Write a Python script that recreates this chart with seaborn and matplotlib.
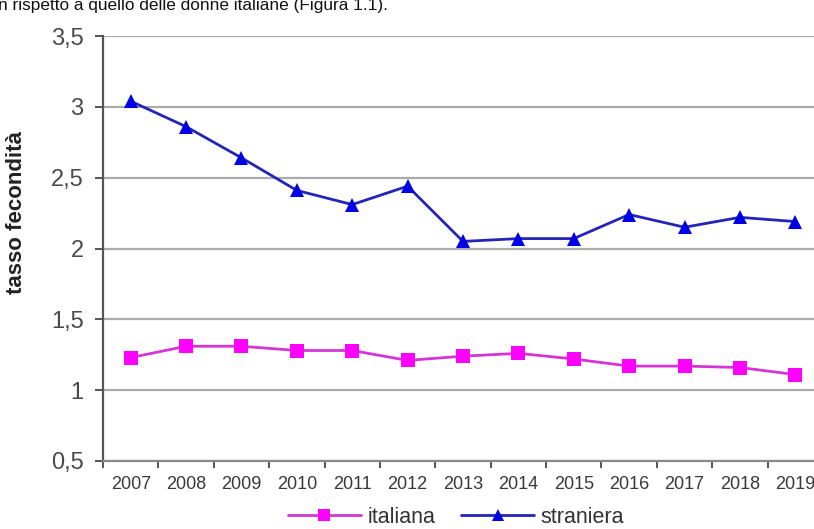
import matplotlib
matplotlib.use("Agg")
import matplotlib.pyplot as plt
from matplotlib.ticker import MultipleLocator, FuncFormatter
import seaborn as sns
import pandas as pd

anni = ["2007", "2008", "2009", "2010", "2011", "2012", "2013",
        "2014", "2015", "2016", "2017", "2018", "2019"]
italiana = [1.23, 1.31, 1.31, 1.28, 1.28, 1.21, 1.24, 1.26, 1.22, 1.17, 1.17, 1.16, 1.11]
straniera = [3.04, 2.86, 2.64, 2.41, 2.31, 2.44, 2.05, 2.07, 2.07, 2.24, 2.15, 2.22, 2.19]
y_ticks = [0.5, 1, 1.5, 2, 2.5, 3, 3.5]

df = pd.concat([
    pd.DataFrame({"anno": anni, "tasso": italiana, "gruppo": "italiana"}),
    pd.DataFrame({"anno": anni, "tasso": straniera, "gruppo": "straniera"}),
])

sns.set_style("white")
plt.rcParams["font.family"] = ["Liberation Sans", "DejaVu Sans"]

fig = plt.figure(figsize=(8.14, 5.29), dpi=100)
ax = fig.add_axes([103 / 814, 68 / 529, 720 / 814, 425 / 529])

sns.lineplot(
    data=df, x="anno", y="tasso", hue="gruppo", style="gruppo",
    palette={"italiana": "#d535d5", "straniera": "#2424b8"},
    markers={"italiana": "s", "straniera": "^"}, dashes=False,
    markersize=10, linewidth=2.0, markeredgewidth=0, sort=False,
    ax=ax, legend=False, zorder=3,
)
# marker fills brighter than the connecting lines
for line, fill in zip(ax.lines, ["#ff00ff", "#0000e6"]):
    line.set_markerfacecolor(fill)
    line.set_markeredgecolor(fill)

ax.set_xlim(-0.5, len(anni) - 0.5)
ax.set_ylim(0.5, 3.5)
ax.set_yticks(y_ticks)
ax.yaxis.set_major_formatter(FuncFormatter(lambda v, p: f"{v:g}".replace(".", ",")))
ax.set_xticks(range(len(anni)))
ax.set_xticklabels(anni)
ax.xaxis.set_minor_locator(MultipleLocator(1, offset=0.5))

ax.grid(axis="y", color="#ababab", linewidth=1.6, zorder=0)
ax.grid(axis="x", visible=False)
for side in ["top", "right"]:
    ax.spines[side].set_visible(False)
ax.spines["left"].set_color("#555555")
ax.spines["left"].set_linewidth(1.6)
ax.spines["bottom"].set_color("#8a8a8a")
ax.spines["bottom"].set_linewidth(1.6)

ax.tick_params(axis="y", which="major", left=True, length=6, width=1.4,
               color="#555555", labelsize=17, labelcolor="#4a4a4a", pad=8)
ax.tick_params(axis="x", which="major", bottom=False, labelsize=13,
               labelcolor="#3a3a3a", pad=7)
ax.tick_params(axis="x", which="minor", bottom=True, length=5, width=1.4,
               color="#555555")

ax.set_xlabel("")
ax.set_ylabel("tasso fecondità", fontsize=16, fontweight="bold",
              color="#222222")
ax.yaxis.set_label_coords(-76 / 720, (461 - 212) / 425)

handles = [
    plt.Line2D([], [], color="#d535d5", linewidth=2.0, marker="s",
               markersize=9, markerfacecolor="#ff00ff", markeredgewidth=0),
    plt.Line2D([], [], color="#2424b8", linewidth=2.0, marker="^",
               markersize=9, markerfacecolor="#0000e6", markeredgewidth=0),
]
fig.legend(handles, ["italiana", "straniera"], loc="center",
           bbox_to_anchor=(0.56, 0.022), ncol=2, frameon=False,
           fontsize=15.5, handlelength=3.4, handletextpad=0.3,
           columnspacing=1.2, labelcolor="#333333")

fig.text(-0.002, 1 - 10 / 529, "n rispetto a quello delle donne italiane (Figura 1.1).",
         fontsize=12.4, color="#111111", ha="left", va="baseline")

fig.savefig("out.png", dpi=100)
